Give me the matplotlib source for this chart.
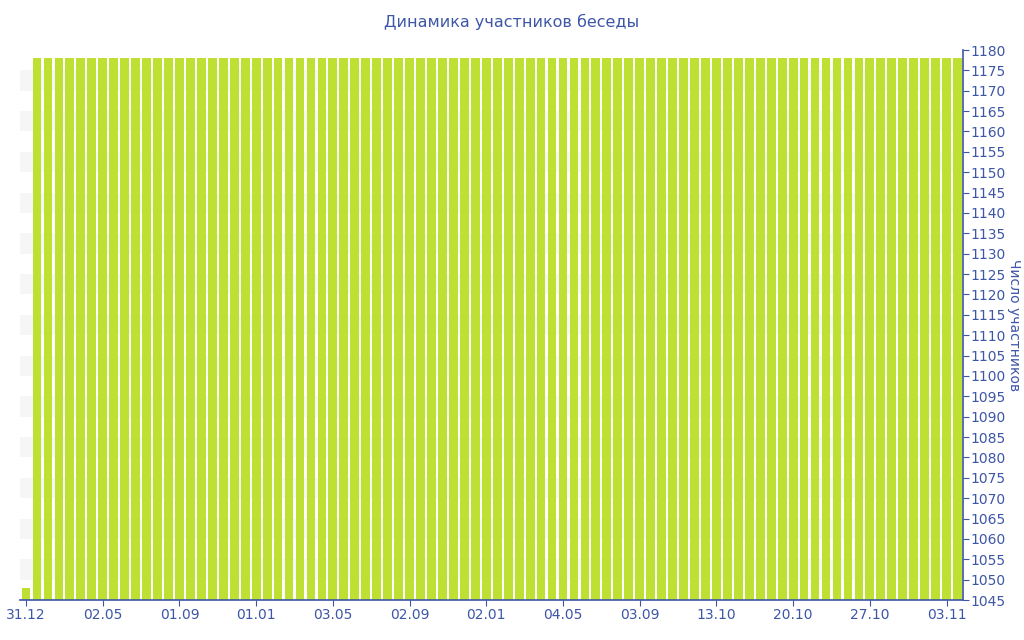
import matplotlib
matplotlib.use("Agg")
import matplotlib.pyplot as plt
from matplotlib.ticker import MultipleLocator

title = "Динамика участников беседы"
ylabel = "Число участников"
tick_labels = ["31.12", "02.05", "01.09", "01.01", "03.05", "02.09", "02.01",
               "04.05", "03.09", "13.10", "20.10", "27.10", "03.11"]
tick_step = 7
values = [1048,
          1178, 1178, 1178, 1178, 1178, 1178, 1178, 1178, 1178, 1178,
          1178, 1178, 1178, 1178, 1178, 1178, 1178, 1178, 1178, 1178,
          1178, 1178, 1178, 1178, 1178, 1178, 1178, 1178, 1178, 1178,
          1178, 1178, 1178, 1178, 1178, 1178, 1178, 1178, 1178, 1178,
          1178, 1178, 1178, 1178, 1178, 1178, 1178, 1178, 1178, 1178,
          1178, 1178, 1178, 1178, 1178, 1178, 1178, 1178, 1178, 1178,
          1178, 1178, 1178, 1178, 1178, 1178, 1178, 1178, 1178, 1178,
          1178, 1178, 1178, 1178, 1178, 1178, 1178, 1178, 1178, 1178,
          1178, 1178, 1178, 1178, 1178]
ymin, ymax = 1045, 1180

blue = "#3d56a6"
green = "#bee032"

fig = plt.figure(figsize=(10.24, 6.4), dpi=100)
ax = fig.add_axes([20/1024, 40/640, 943/1024, 550/640])

# alternating background bands
for lo in range(ymin + 5, ymax, 10):
    ax.axhspan(lo, lo + 5, color="#f6f6f6", zorder=0, lw=0)

x = list(range(len(values)))
ax.bar(x, [v - ymin for v in values], bottom=ymin, width=0.8, color=green,
       edgecolor="none", linewidth=0, zorder=2)

ax.set_xlim(-0.55, len(values) - 0.5)
ax.set_ylim(ymin, ymax)

ax.set_xticks([i * tick_step for i in range(len(tick_labels))])
ax.set_xticklabels(tick_labels)

ax.yaxis.tick_right()
ax.yaxis.set_label_position("right")
ax.yaxis.set_major_locator(MultipleLocator(5))
ax.set_ylabel(ylabel, color=blue, fontsize=10, rotation=-90, labelpad=11)

for s in ["top", "left"]:
    ax.spines[s].set_visible(False)
for s in ["right", "bottom"]:
    ax.spines[s].set_color(blue)
    ax.spines[s].set_linewidth(1.2)

ax.tick_params(axis="both", colors=blue, labelcolor=blue, labelsize=10,
               length=4, width=0.8, pad=2)
ax.tick_params(axis="y", direction="out", pad=1)

fig.suptitle(title, color=blue, fontsize=11.5, y=1 - 22/640, va="center")

fig.savefig("out.png", dpi=100)
